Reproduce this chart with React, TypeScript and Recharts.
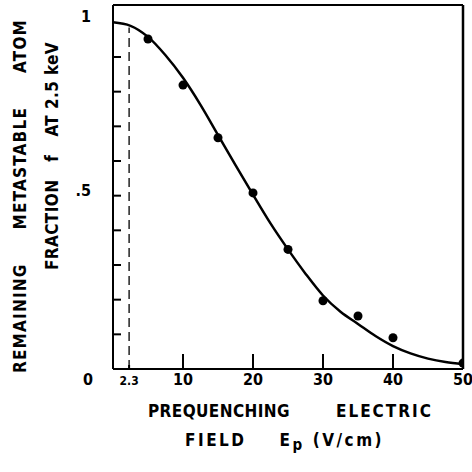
import { ComposedChart, Line, Scatter, XAxis, YAxis, ReferenceLine } from "recharts";

// fitted curve (field E_p in V/cm, fraction f)
const curveField = [0, 2.5, 5, 7.5, 10, 12.5, 15, 17.5, 20, 22.5, 25, 27.5, 30, 32.5, 35, 37.5, 40, 42.5, 45, 47.5, 50];
const curveFraction = [1.0, 0.99, 0.958, 0.905, 0.84, 0.762, 0.675, 0.588, 0.503, 0.42, 0.345, 0.275, 0.212, 0.165, 0.13, 0.095, 0.066, 0.045, 0.03, 0.02, 0.014];

// measured points
const pointField = [5, 10, 15, 20, 25, 30, 35, 40, 50];
const pointFraction = [0.952, 0.819, 0.667, 0.508, 0.345, 0.197, 0.153, 0.09, 0.017];

const xMax = 50;
const yMax = 1.05;
const xTicks = [0, 2.3, 10, 20, 30, 40, 50];
const yTicks = [0.1, 0.2, 0.3, 0.4, 0.5, 0.6, 0.7, 0.8, 0.9, 1, yMax];
const yTickLabels: Record<string, string> = { "1": "1", "0.5": ".5" };
const cutoffField = 2.3;

const curveData = curveField.map((x, i) => ({ x, f: curveFraction[i] }));
const pointData = pointField.map((x, i) => ({ x, f: pointFraction[i] }));

const FONT = "'DejaVu Sans Condensed', 'DejaVu Sans', sans-serif";
const INK = "#000";

const W = 472;
const H = 472;
const MARGIN = { top: 5, right: 9, left: 73, bottom: 73 };
const Y_AXIS_W = 40;
const X_AXIS_H = 30;
const PLOT_W = W - MARGIN.left - MARGIN.right - Y_AXIS_W;
const PLOT_H = H - MARGIN.top - MARGIN.bottom - X_AXIS_H;

const XTick = (props: any) => {
  const { x, y, payload } = props;
  const v = payload.value;
  if (v === 0) {
    return (
      <text x={x - 25} y={y + 16} textAnchor="middle" fontFamily={FONT} fontSize={16} fontWeight="bold" fill={INK}>
        0
      </text>
    );
  }
  const small = v === 2.3;
  return (
    <g>
      {v === xMax ? (
        // right side of the frame
        <path d={`M${x},${y}V${y - PLOT_H}`} stroke={INK} strokeWidth={2.5} fill="none" />
      ) : (
        <line x1={x} x2={x} y1={y} y2={y - (small ? 4 : 15)} stroke={INK} strokeWidth={2} />
      )}
      <text x={x} y={y + 16} textAnchor="middle" fontFamily={FONT} fontSize={small ? 12 : 16} fontWeight="bold" fill={INK}>
        {String(v)}
      </text>
    </g>
  );
};

const YTick = (props: any) => {
  const { x, y, payload } = props;
  const v = payload.value;
  if (v === yMax) {
    // top side of the frame
    return <path d={`M${x},${y}H${x + PLOT_W}`} stroke={INK} strokeWidth={2} fill="none" />;
  }
  const label = yTickLabels[String(v)];
  return (
    <g>
      {v < 1 && <line x1={x} x2={x + 8} y1={y} y2={y} stroke={INK} strokeWidth={2} />}
      {label && (
        <text x={x - 22} y={y} textAnchor="end" fontFamily={FONT} fontSize={16} fontWeight="bold" fill={INK}>
          {label}
        </text>
      )}
    </g>
  );
};

const titleStyle: React.CSSProperties = {
  position: "absolute",
  fontFamily: FONT,
  fontSize: 17,
  fontWeight: "bold",
  color: INK,
  whiteSpace: "pre",
  letterSpacing: 0.4,
  lineHeight: 1,
};

const Words = ({ words, gaps, spacing }: { words: React.ReactNode[]; gaps: number[]; spacing?: number[] }) => (
  <>
    {words.map((w, i) => (
      <span
        key={i}
        style={{
          display: "inline-block",
          marginLeft: i === 0 ? 0 : gaps[i - 1],
          letterSpacing: spacing ? spacing[i] : undefined,
        }}
      >
        {w}
      </span>
    ))}
  </>
);

export default function App() {
  return (
    <div style={{ position: "absolute", left: 0, top: 0, width: W, height: H, background: "#fff" }}>
      <ComposedChart width={W} height={H} margin={MARGIN}>
        <XAxis
          dataKey="x"
          type="number"
          domain={[0, xMax]}
          ticks={xTicks}
          interval={0}
          allowDataOverflow
          height={X_AXIS_H}
          tickSize={0}
          tickMargin={0}
          tickLine={false}
          axisLine={{ stroke: INK, strokeWidth: 2 }}
          tick={<XTick />}
        />
        <YAxis
          type="number"
          domain={[0, yMax]}
          ticks={yTicks}
          interval={0}
          allowDataOverflow
          width={Y_AXIS_W}
          tickSize={0}
          tickMargin={0}
          tickLine={false}
          axisLine={{ stroke: INK, strokeWidth: 2 }}
          tick={<YTick />}
        />
        <ReferenceLine
          segment={[{ x: cutoffField, y: 0 }, { x: cutoffField, y: 0.985 }]}
          stroke={INK}
          strokeWidth={1.3}
          strokeDasharray="9 5"
        />
        <Line
          data={curveData}
          dataKey="f"
          type="monotone"
          stroke={INK}
          strokeWidth={2.5}
          dot={false}
          activeDot={false}
          isAnimationActive={false}
        />
        <Scatter data={pointData} dataKey="f" fill={INK} shape="circle" isAnimationActive={false} />
      </ComposedChart>
      <div style={{ ...titleStyle, left: 148, top: 403 }}>
        <Words words={["PREQUENCHING", "ELECTRIC"]} gaps={[46]} spacing={[0.4, 2]} />
      </div>
      <div style={{ ...titleStyle, left: 185, top: 432, letterSpacing: 2.5 }}>
        <Words
          words={[
            "FIELD",
            <>
              E<sub style={{ fontSize: 15, verticalAlign: -4 }}>p</sub>
            </>,
            "(V/cm)",
          ]}
          gaps={[33, 8]}
        />
      </div>
      <div
        style={{
          ...titleStyle,
          left: 20,
          top: 196,
          letterSpacing: 1.2,
          transform: "translate(-50%, -50%) rotate(-90deg)",
        }}
      >
        <Words words={["REMAINING", "METASTABLE", "ATOM"]} gaps={[34, 34]} />
      </div>
      <div
        style={{
          ...titleStyle,
          left: 52,
          top: 156,
          transform: "translate(-50%, -50%) rotate(-90deg)",
        }}
      >
        <Words words={["FRACTION", "f", "AT 2.5 keV"]} gaps={[18, 18]} />
      </div>
    </div>
  );
}
